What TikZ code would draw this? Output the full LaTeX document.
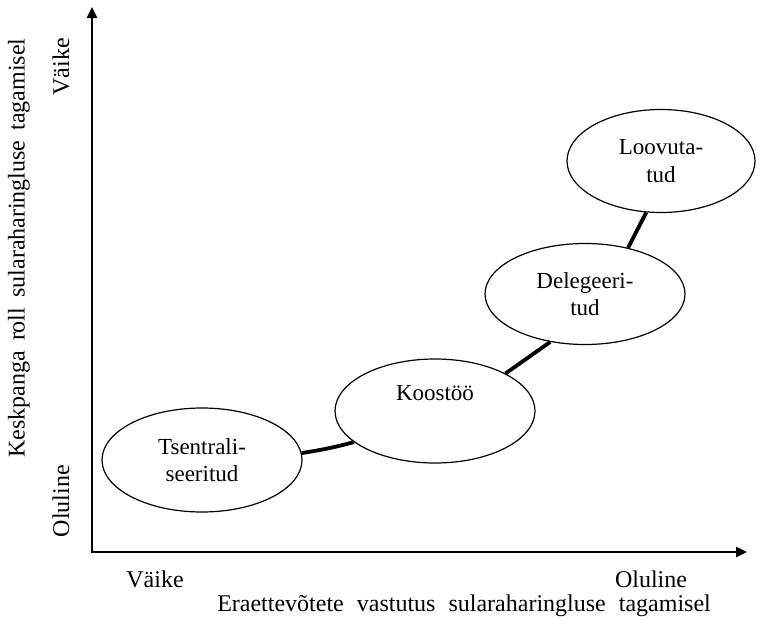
\documentclass[tikz,border=0pt]{standalone}
\usepackage{fontspec}
\setmainfont{Liberation Serif}
\usetikzlibrary{shapes.geometric,arrows.meta}
\begin{document}
\begin{tikzpicture}[x=1pt,y=-1pt,
  every node/.style={font=\fontsize{24}{27.5}\selectfont, inner sep=0pt},
  wide/.style={execute at begin node={\spaceskip=#1\relax}},
  stage/.style={ellipse, draw, line width=1.2pt, fill=white, align=center, minimum width=200pt, minimum height=104pt, font=\fontsize{23}{27.5}\selectfont},
  axis/.style={line width=2.4pt, {Triangle[length=11pt,width=10pt]}-{Triangle[length=11pt,width=10pt]}},
  link/.style={line width=3.8pt}]
\useasboundingbox (0,0) rectangle (760,629);
\coordinate (O) at (92,552);
\coordinate (ytip) at (92,7);
\coordinate (xtip) at (747,552);
\draw[axis] (ytip) -- (O) -- (xtip);

\node[stage] (T) at (202,460) {Tsentrali-\\seeritud};
\node[stage] (K) at (435,411) {Koostöö\\\strut};
\node[stage, minimum height=101pt] (D) at (585,294) {Delegeeri-\\tud};
\node[stage, minimum width=188pt, minimum height=103pt] (L) at (661,161) {Loovuta-\\tud};

\draw[link] (T.4) to[bend right=3] (K.201);
\draw[link] (K.28) -- (D.234);
\draw[link] (D.47) -- (L.254);

\node[rotate=90, wide=10pt] (ylab) at (19,248) {Keskpanga roll sularaharingluse tagamisel};
\node[rotate=90] (yhi) at (61,67) {Väike};
\node[rotate=90] (ylo) at (61,501) {Oluline};
\node (xlo) at (155,579) {Väike};
\node (xhi) at (651,579) {Oluline};
\node[wide=13pt] (xlab) at (464,606) {Eraettevõtete vastutus sularaharingluse tagamisel};
\end{tikzpicture}
\end{document}
